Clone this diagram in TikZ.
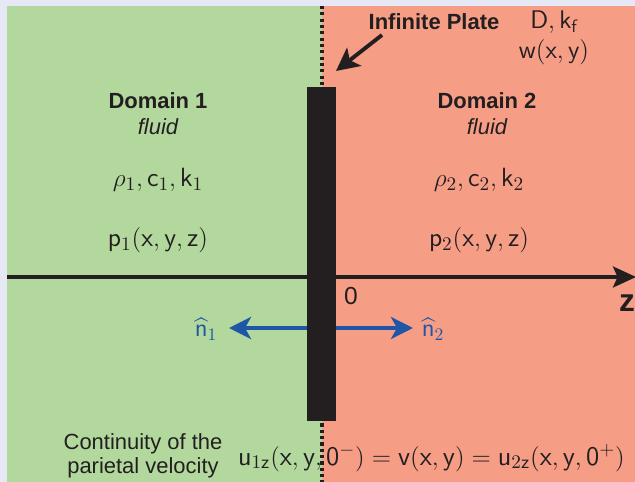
\documentclass[tikz,border=0pt]{standalone}
\usepackage{amsmath,amssymb}
\usepackage{fontspec}
\setmainfont{Liberation Sans}
\usetikzlibrary{arrows.meta,positioning}
\definecolor{PlateMargin}{HTML}{E6E8F5}
\definecolor{FluidGreen}{HTML}{B3D89E}
\definecolor{FluidSalmon}{HTML}{F69D86}
\definecolor{PlateBlack}{HTML}{231F20}
\definecolor{NormalBlue}{HTML}{1F56A6}
\newcommand{\sv}[1]{\mathsf{#1}}

\begin{document}
\begin{tikzpicture}[x=0.02cm,y=-0.02cm,
    label/.style={font=\fontsize{12.5}{14}\selectfont,text=PlateBlack,align=center,inner sep=1pt},
    title/.style={label,font=\fontsize{12.5}{14}\selectfont\bfseries},
    maths/.style={label,font=\fontsize{15}{17}\selectfont},
    plate/.style={fill=PlateBlack,draw=none,minimum width=0.58cm,minimum height=6.68cm,inner sep=0pt},
    axis/.style={-{Stealth[length=4.6mm,width=4.2mm,inset=0.9mm]},line width=1.9pt,color=PlateBlack},
    normal/.style={-{Stealth[length=4.4mm,width=4.4mm,inset=1.2mm]},line width=2.2pt,color=NormalBlue},
    pointer/.style={-{Stealth[length=4.6mm,width=4.6mm,inset=1.1mm]},line width=2.2pt,color=PlateBlack}
  ]
    \useasboundingbox (0,0) rectangle (635,482);
    % the two fluids
    \fill[PlateMargin] (0,0) rectangle (635,482);
    \fill[FluidGreen] (7,6) rectangle (322,482);
    \fill[FluidSalmon] (322,6) rectangle (635,482);
    \draw[PlateBlack,line width=1.9pt,dash pattern=on 1.8pt off 1.8pt] (322,6) -- (322,482);
    % z axis
    \coordinate (zstart) at (7,277);
    \coordinate (zend) at (636,277);
    \draw[axis] (zstart) -- (zend);
    \node[font=\fontsize{18}{18}\selectfont\bfseries,text=PlateBlack] (zlab) at (627,303) {z};
    % plate
    \node[plate] (plate) at (321.5,254) {};
    \node[label,font=\fontsize{14}{16}\selectfont] (origin) at (351,296) {0};
    % normals
    \coordinate (n1end) at (229,328);
    \coordinate (n2end) at (413,328);
    \draw[normal] (n1end -| plate.west) -- (n1end);
    \draw[normal] (n2end -| plate.east) -- (n2end);
    \node[maths,text=NormalBlue,font=\fontsize{14.5}{16}\selectfont] (n1) at (206,329) {$\widehat{\sv{n}}_1$};
    \node[maths,text=NormalBlue,font=\fontsize{14.5}{16}\selectfont] (n2) at (433,329) {$\widehat{\sv{n}}_2$};
    % plate labels
    \node[title] (infplate) at (434,22) {Infinite Plate};
    \coordinate (ptail) at (382,35);
    \coordinate (phead) at (336,71);
    \draw[pointer] (ptail) -- (phead);
    \node[maths,font=\fontsize{14.5}{16}\selectfont] (stiff) at (554,22) {$\sv{D}, \sv{k}_\sv{f}$};
    \node[maths,font=\fontsize{14.5}{16}\selectfont] (wdisp) at (554,52) {$\sv{w}(\sv{x}, \sv{y})$};
    % domain 1
    \node[title] (dom1) at (158,101) {Domain 1};
    \node[label,font=\fontsize{12.5}{14}\selectfont\itshape] (fluid1) at (158,127) {fluid};
    \node[maths] (prop1) at (158,180) {$\rho_1, \sv{c}_1, \sv{k}_1$};
    \node[maths] (pres1) at (158,240) {$\sv{p}_1(\sv{x},\sv{y},\sv{z})$};
    % domain 2
    \node[title] (dom2) at (487,101) {Domain 2};
    \node[label,font=\fontsize{12.5}{14}\selectfont\itshape] (fluid2) at (487,127) {fluid};
    \node[maths] (prop2) at (479,180) {$\rho_2, \sv{c}_2, \sv{k}_2$};
    \node[maths] (pres2) at (479,240) {$\sv{p}_2(\sv{x},\sv{y},\sv{z})$};
    % continuity condition
    \node[label,align=center] (cont) at (143,456) {Continuity of the\\parietal velocity};
    \node[maths,anchor=west,font=\fontsize{15.3}{17}\selectfont] (veq) at (236,458) {$\sv{u}_{1\sv{z}}(\sv{x},\sv{y},\sv{0}^-) = \sv{v}(\sv{x},\sv{y}) = \sv{u}_{2\sv{z}}(\sv{x},\sv{y},\sv{0}^+)$};
\end{tikzpicture}
\end{document}
